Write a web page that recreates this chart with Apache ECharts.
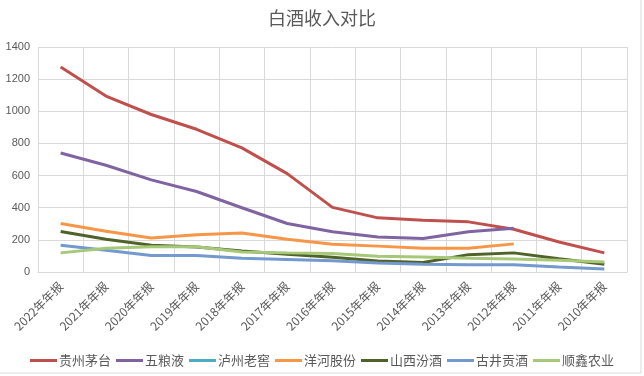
<!DOCTYPE html>
<html><head><meta charset="utf-8">
<script src="https://cdn.jsdelivr.net/npm/echarts@6/dist/echarts.min.js"></script>
<style>html,body{margin:0;padding:0;background:#fff}#c{width:644px;height:376px}</style>
</head><body><div id="c"></div>
<script>
const categories = ['2022年年报','2021年年报','2020年年报','2019年年报','2018年年报','2017年年报','2016年年报','2015年年报','2014年年报','2013年年报','2012年年报','2011年年报','2010年年报'];
const yTicks = [0,200,400,600,800,1000,1200,1400];
const moutai   = [1275,1095,980,888,772,612,402,337,322,312,266,187,119];
const wuliangye= [740,664,573,501,400,302,250,218,208,250,272,null,null];
const luzhou   = [null,null,null,null,null,null,null,null,null,null,null,null,null];
const yanghe   = [302,254,211,232,242,204,173,161,148,148,175,null,null];
const fenjiu   = [252,204,167,156,131,110,92,69,59,108,119,83,48];
const gujing   = [167,135,103,103,86,78,70,56,48,45,45,31,19];
const shunxin  = [119,148,157,157,125,119,115,98,94,85,81,73,62];
const names = ['贵州茅台','五粮液','泸州老窖','洋河股份','山西汾酒','古井贡酒','顺鑫农业'];
const colors = ['#C0504D','#8064A2','#4BACC6','#F79646','#4F6228','#7399CE','#A8C879'];
const dataSets = [moutai,wuliangye,luzhou,yanghe,fenjiu,gujing,shunxin];
const font = '"Noto Sans CJK SC", "Noto Sans", sans-serif';
const chart = echarts.init(document.getElementById('c'));
chart.setOption({
  animation:false,
  color: colors,
  textStyle:{fontFamily:font},
  title:{text:'白酒收入对比',left:'center',top:4,textStyle:{fontSize:18,fontWeight:'normal',color:'#595959',fontFamily:font}},
  grid:{left:38,right:17,top:47,bottom:104},
  graphic:[{type:'polyline',shape:{points:[[641,0],[641,373],[0,373]]},style:{stroke:'#D9D9D9',lineWidth:1,fill:null},silent:true}],
  legend:{bottom:4,left:'center',itemWidth:27,itemHeight:3,itemGap:5,icon:'rect',
    textStyle:{fontSize:13,color:'#595959',fontFamily:font,padding:[0,0,0,-3]},data:names},
  xAxis:{type:'category',data:categories,boundaryGap:true,
    axisLine:{lineStyle:{color:'#D9D9D9'}},axisTick:{show:false},
    splitLine:{show:true,lineStyle:{color:'#D9D9D9'}},
    axisLabel:{rotate:45,fontSize:12,color:'#595959',interval:0,margin:12,fontFamily:font}},
  yAxis:{type:'value',min:yTicks[0],max:yTicks[yTicks.length-1],interval:200,
    axisLine:{show:false},axisTick:{show:false},
    splitLine:{lineStyle:{color:'#D9D9D9'}},
    axisLabel:{fontSize:11,color:'#595959',margin:8,formatter:v=>String(v),fontFamily:"Liberation Sans, sans-serif"}},
  series: names.map((n,i)=>({name:n,type:'line',data:dataSets[i],symbol:'none',showSymbol:false,
    lineStyle:{width:3,color:colors[i]},itemStyle:{color:colors[i]}}))
});
</script></body></html>
